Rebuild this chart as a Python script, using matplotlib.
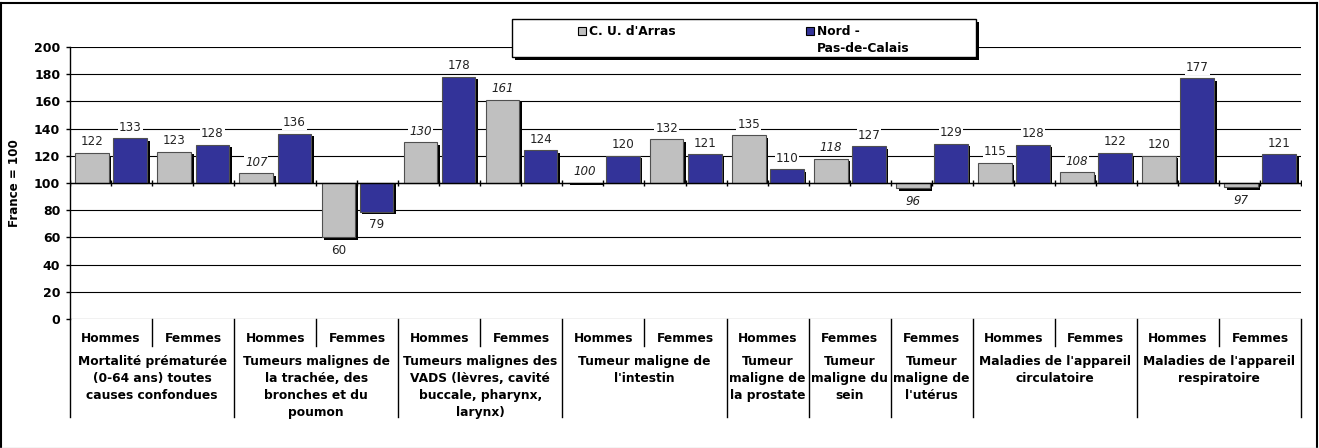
import matplotlib
matplotlib.use('Agg')
import numpy as np
import matplotlib.pyplot as plt
from matplotlib.transforms import blended_transform_factory, ScaledTranslation
from matplotlib.patches import Rectangle
from matplotlib.lines import Line2D

# sub-categories (one per pair of bars)
sexes = ['Hommes', 'Femmes', 'Hommes', 'Femmes', 'Hommes', 'Femmes', 'Hommes', 'Femmes',
         'Hommes', 'Femmes', 'Femmes', 'Hommes', 'Femmes', 'Hommes', 'Femmes']
# main categories and how many sub-categories each covers
causes = ["Mortalité prématurée\n(0-64 ans) toutes\ncauses confondues",
          "Tumeurs malignes de\nla trachée, des\nbronches et du\npoumon",
          "Tumeurs malignes des\nVADS (lèvres, cavité\nbuccale, pharynx,\nlarynx)",
          "Tumeur maligne de\nl'intestin",
          "Tumeur\nmaligne de\nla prostate",
          "Tumeur\nmaligne du\nsein",
          "Tumeur\nmaligne de\nl'utérus",
          "Maladies de l'appareil\ncirculatoire",
          "Maladies de l'appareil\nrespiratoire"]
cause_span = [2, 2, 2, 2, 1, 1, 1, 2, 2]

arras = [122, 123, 107, 60, 130, 161, 100, 132, 135, 118, 96, 115, 108, 120, 97]
npdc = [133, 128, 136, 79, 178, 124, 120, 121, 110, 127, 129, 128, 122, 177, 121]
# italic labels (C. U. d'Arras) in the original
arras_italic = [False, False, True, False, True, True, True, False, False, True, True, False, True, False, True]

gray = '#C0C0C0'
blue = '#333399'
base = 100

W, H = 1319, 448
fig = plt.figure(figsize=(W / 100, H / 100), dpi=100)
ax = fig.add_axes([70 / W, 129 / H, 1231 / W, 272 / H])

x = np.arange(len(arras))
w = 0.41
xa = x + 0.27
xb = x + 0.735

# shadows: shifted a few pixels right, and a bit lower
shift = ax.transData + ScaledTranslation(0.025, 0, fig.dpi_scale_trans)
for xs, vals in [(xa, arras), (xb, npdc)]:
    v = np.array(vals, dtype=float)
    ax.bar(xs, v - 1.8 - base, w, bottom=base, color='black', zorder=1.5, transform=shift)

ax.bar(xa, np.array(arras) - base, w, bottom=base, color=gray, edgecolor='#505050', lw=0.8, zorder=2)
ax.bar(xb, np.array(npdc) - base, w, bottom=base, color=blue, edgecolor='#505050', lw=0.8, zorder=2)

# value labels
for xs, vals, ital in [(xa, arras, arras_italic), (xb, npdc, [False] * len(npdc))]:
    for xi, v, it in zip(xs, vals, ital):
        off = 8 if v >= base else -9.5
        ax.annotate(str(v), (xi, v), xytext=(0, off), textcoords='offset points',
                    ha='center', va='center', fontsize=8.6, color='#222222',
                    style='italic' if it else 'normal', zorder=4,
                    bbox=dict(boxstyle='square,pad=0.08', fc='white', ec='none'))

# axis line at 100 with crossing ticks
ax.axhline(base, color='black', lw=1, zorder=3)
ax.plot(np.arange(0, 15.01, 0.5), [base] * 31, ls='none', marker='|', ms=4.5,
        mew=1, color='black', zorder=3)

ax.set_xlim(0, 15)
ax.set_ylim(0, 200)
ax.set_yticks(range(0, 201, 20))
ax.yaxis.grid(True, color='black', lw=0.8)
ax.set_axisbelow(True)
ax.set_xticks([])
for s in ['top', 'right', 'bottom']:
    ax.spines[s].set_visible(False)
ax.spines['left'].set_linewidth(1)
ax.tick_params(axis='y', length=3, width=1, pad=4, labelsize=9)
plt.setp(ax.get_yticklabels(), fontweight='bold')

# two-level category axis
tr = blended_transform_factory(ax.transData, ax.transAxes)
bounds = np.concatenate([[0], np.cumsum(cause_span)])
for b in bounds:
    ax.plot([b, b], [0, -0.36], color='black', lw=1, transform=tr, clip_on=False)
for i in range(len(sexes) - 1):
    if i + 1 not in bounds:
        ax.plot([i + 1, i + 1], [0, -0.099], color='black', lw=1, transform=tr, clip_on=False)
for i, s in enumerate(sexes):
    ax.text(i + 0.5, -0.07, s, transform=tr, ha='center', va='center',
            fontsize=8.8, fontweight='bold')
for c, b0, n in zip(causes, bounds[:-1], cause_span):
    ax.text(b0 + n / 2, -0.132, c, transform=tr, ha='center', va='top',
            fontsize=8.8, fontweight='bold', linespacing=1.4)

fig.text(15 / W, 1 - 183 / H, 'France = 100', rotation=90, ha='center', va='center',
         fontsize=8.6, fontweight='bold')

# legend box
lx0, ly0, lx1, ly1 = 512, 19, 976, 57
fig.add_artist(Rectangle((lx0 / W + 3 / W, 1 - (ly1 + 3) / H), (lx1 - lx0) / W, (ly1 - ly0) / H,
                         transform=fig.transFigure, fc='black', ec='none', zorder=5))
fig.add_artist(Rectangle((lx0 / W, 1 - ly1 / H), (lx1 - lx0) / W, (ly1 - ly0) / H,
                         transform=fig.transFigure, fc='white', ec='black', lw=1, zorder=6))
for px, col, lab in [(578, gray, "C. U. d'Arras"), (806, blue, "Nord -\nPas-de-Calais")]:
    fig.add_artist(Rectangle((px / W, 1 - 35 / H), 8 / W, 8 / H, transform=fig.transFigure,
                             fc=col, ec='black', lw=0.8, zorder=7))
    fig.text((px + 11) / W, 1 - 25 / H, lab, ha='left', va='top', fontsize=8.8,
             fontweight='bold', zorder=7, linespacing=1.4)

# outer frame
fig.add_artist(Line2D([1 / W, 1 / W], [1 / H, 1 - 3 / H], transform=fig.transFigure, color='black', lw=1.5))
fig.add_artist(Line2D([1 / W, 1317 / W], [1 - 3 / H, 1 - 3 / H], transform=fig.transFigure, color='black', lw=1.5))
fig.add_artist(Line2D([1317 / W, 1317 / W], [1 / H, 1 - 3 / H], transform=fig.transFigure, color='black', lw=1.5))
fig.add_artist(Line2D([0, 1], [0.5 / H, 0.5 / H], transform=fig.transFigure, color='#c8c8c8', lw=1))

fig.savefig('out.png', dpi=100)
